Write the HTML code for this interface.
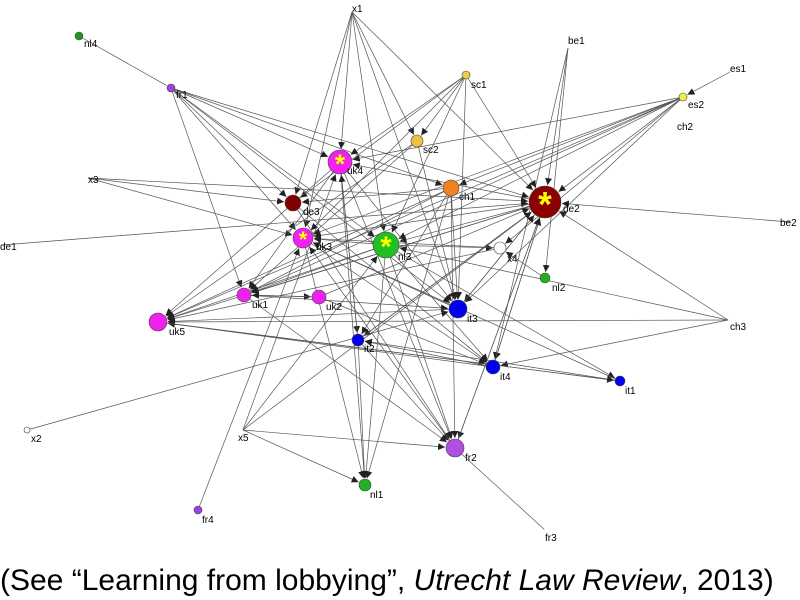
<!DOCTYPE html>
<html><head><meta charset="utf-8"><style>
html,body{margin:0;padding:0;background:#fff;width:800px;height:600px;overflow:hidden}
svg{display:block}
text{font-family:"Liberation Sans",sans-serif}
</style></head><body>
<svg id="s" width="800" height="600" viewBox="0 0 800 600" xmlns="http://www.w3.org/2000/svg">
<defs><marker id="a" viewBox="0 0 10 10" refX="10" refY="5" markerWidth="7" markerHeight="7" orient="auto" markerUnits="userSpaceOnUse"><path d="M0,0 L10,5 L0,10 z" fill="#222"/></marker></defs>
<g id="e" stroke="#555" stroke-width="0.7" fill="none"></g>
<g id="n"></g>
<text x="0" y="590" font-size="30" fill="#000">(See “Learning from lobbying”, <tspan font-style="italic">Utrecht Law Review</tspan>, 2013)</text>
</svg>
<script>
var N={
x1:[352,12,0,"#fff",352,12],nl4:[79,36,4,"#1a9a1a",84,47],be1:[568,48,0,"#fff",568,44],es1:[730,72,0,"#fff",730,72],
fr1:[171,88,4,"#a040e0",176,98],sc1:[466,75,4,"#f0d040",471,88],es2:[683,97,4,"#f0f040",688,108],ch2:[680,120,0,"#fff",677,130],
sc2:[417,141,6,"#f0c040",423,153],uk4:[340,162,12,"#f020f0",347,174],x3:[88,178,0,"#fff",88,183],ch1:[451,188,8,"#f08020",459,200],
de2:[545,202,16,"#8b0000",563,212],de3:[293,203,8,"#800000",303,215],be2:[790,222,0,"#fff",780,226],de1:[2,245,0,"#fff",0,250],
uk3:[303,238,10,"#f020f0",316,250],nl3:[386,245,13,"#20c020",398,260],x4:[500,248,6,"#fff",507,262],nl2:[545,278,5,"#20b020",552,291],
uk1:[244,295,7,"#f020f0",252,308],uk2:[319,297,7,"#f020f0",326,310],uk5:[158,322,9,"#f020f0",169,335],it3:[458,309,9,"#0000ee",467,322],
ch3:[728,320,0,"#fff",730,330],it2:[358,340,6,"#0000ee",364,352],it4:[493,367,7,"#0000ee",500,380],it1:[620,381,5,"#0000ee",625,394],
x2:[27,430,3,"#fff",31,442],x5:[243,430,0,"#fff",238,441],fr2:[455,448,9,"#b050e0",465,461],nl1:[365,485,6,"#20b020",370,498],
fr4:[198,510,4,"#a040e0",202,523],fr3:[545,530,0,"#fff",545,541]};
var E="x1 uk4,x1 sc2,x1 de2,x1 it3,x1 uk3,x1 de3,x1 nl3,fr1 de2,fr1 uk4,fr1 ch1,fr1 uk3,fr1 de3,fr1 it3,fr1 nl3,fr1 uk1,es2 uk4,es2 ch1,es2 nl3,es2 de2,es2 x4,es2 it3,es2 uk3,es2 uk1,es2 uk5,es1 es2,be1 de2,be1 it4,be1 nl2,sc1 uk4,sc1 sc2,sc1 de3,sc1 it3,sc1 nl3,sc1 uk3,sc1 de2,x3 de2,x3 uk3,x3 de3,de1 de2,be2 de2,ch3 de2,ch3 uk5,ch3 nl3,ch3 it4,de2 uk5,de2 uk1,de2 nl3,de2 uk3,de2 it2,de2 fr2,de2 it3,de2 it4,de2 uk4,uk4 uk5,uk4 it2,uk4 nl1,uk4 fr2,uk4 uk1,uk4 it3,ch1 uk5,ch1 uk1,ch1 it2,ch1 fr2,ch1 de3,ch1 it3,nl3 uk5,nl3 uk1,nl3 it4,nl3 it1,nl3 fr2,nl3 nl1,nl3 uk3,nl3 x4,it1 uk5,it1 uk3,it1 it2,it4 uk5,it4 it2,it4 de2,x5 uk4,x5 fr2,x5 nl1,x5 de2,x5 nl3,fr4 uk3,x2 it3,fr2 fr3,nl2 x4,de3 it4,de3 fr2,uk1 uk2,uk1 it3,uk1 fr2,uk2 uk1,it2 nl1,it2 fr2,it2 uk4,it3 uk5,it3 de2,sc2 uk5,sc2 uk1,sc2 it3,uk3 it4,uk3 nl1,uk2 it4,uk2 de2,x4 uk3,x4 uk5,it2 de2,fr2 uk3,fr2 de2,nl4 fr1,uk5 it1,it3 uk3,ch1 nl1".split(",");
var ns="http://www.w3.org/2000/svg",ge=document.getElementById("e"),gn=document.getElementById("n");
E.forEach(function(p){var q=p.split(" "),a=N[q[0]],b=N[q[1]];if(!a||!b)return;var dx=b[0]-a[0],dy=b[1]-a[1],d=Math.sqrt(dx*dx+dy*dy),r=b[2]+1;
var l=document.createElementNS(ns,"line");l.setAttribute("x1",a[0]);l.setAttribute("y1",a[1]);l.setAttribute("x2",b[0]-dx/d*r);l.setAttribute("y2",b[1]-dy/d*r);
if(q[0]!="nl4"&&q[1]!="fr3")l.setAttribute("marker-end","url(#a)");ge.appendChild(l);});
for(var k in N){var v=N[k];if(v[2]>0){var c=document.createElementNS(ns,"circle");c.setAttribute("cx",v[0]);c.setAttribute("cy",v[1]);c.setAttribute("r",v[2]);c.setAttribute("fill",v[3]);c.setAttribute("stroke","#444");c.setAttribute("stroke-width","0.6");gn.appendChild(c);}
var t=document.createElementNS(ns,"text");t.setAttribute("x",v[4]);t.setAttribute("y",v[5]);t.setAttribute("font-size","10");t.textContent=k;gn.appendChild(t);}
["uk4","uk3","nl3","de2"].forEach(function(k){var v=N[k];var t=document.createElementNS(ns,"text");t.setAttribute("x",v[0]);t.setAttribute("y",v[1]+v[2]*0.9);t.setAttribute("font-size",v[2]*2.2);t.setAttribute("text-anchor","middle");t.setAttribute("fill","#ffff00");t.setAttribute("font-weight","bold");t.textContent="*";gn.appendChild(t);});
</script>
</body></html>
